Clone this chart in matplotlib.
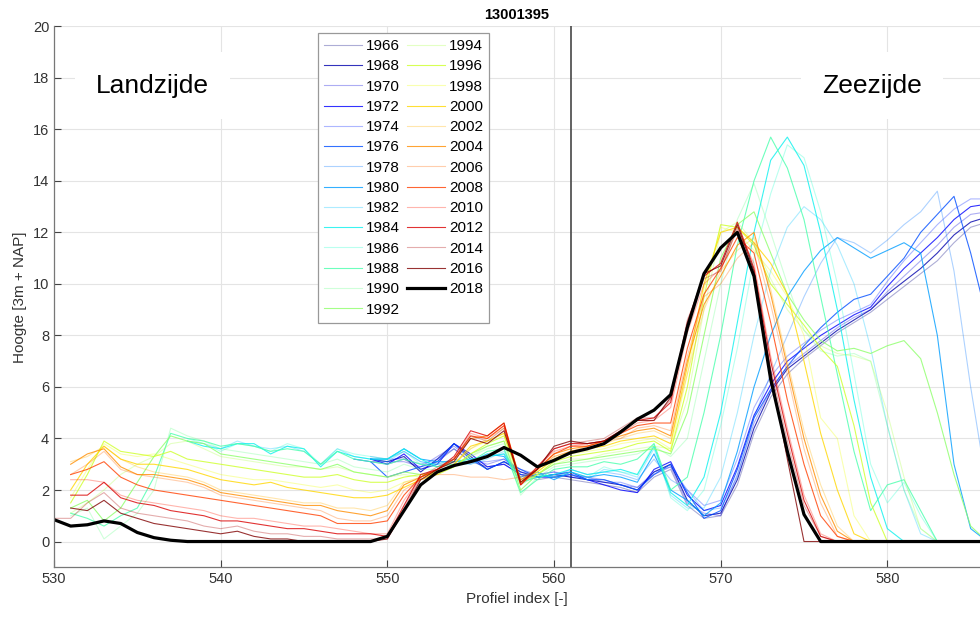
import numpy as np
import matplotlib
matplotlib.use("Agg")
import matplotlib.pyplot as plt

plt.rcParams['font.family'] = ['Liberation Sans', 'DejaVu Sans']

nan = np.nan

# profiel index 530 .. 586
profile_index = np.arange(530, 587)

years = [1966, 1968, 1970, 1972, 1974, 1976, 1978, 1980, 1982, 1984, 1986, 1988, 1990,
         1992, 1994, 1996, 1998, 2000, 2002, 2004, 2006, 2008, 2010, 2012, 2014, 2016, 2018]

# hoogte per jaar [3m + NAP]
h1966 = [nan, nan, nan, nan, nan, nan, nan, nan,
         nan, nan, nan, nan, nan, nan, nan, nan, nan, nan, nan, 3.1, 3.0,
         3.2, 2.8, 3.1, 3.6, 3.1, 2.9, 3.0, 2.6, 2.4, 2.5, 2.4, 2.3, 2.2, 2.1, 1.9, 2.5, 2.8,
         1.4, 0.9, 1.0, 2.2, 4.2, 5.6, 6.5, 7.1, 7.6, 8.1, 8.5, 8.9, 9.4, 9.9, 10.4, 10.9, 11.6, 12.2, 12.4]
h1968 = [nan, nan, nan, nan, nan, nan, nan, nan,
         nan, nan, nan, nan, nan, nan, nan, nan, nan, nan, nan, 3.2, 3.1,
         3.3, 2.7, 3.2, 3.8, 3.3, 2.8, 3.1, 2.7, 2.5, 2.6, 2.5, 2.4, 2.3, 2.2, 2.0, 2.7, 3.0,
         1.6, 1.0, 1.1, 2.4, 4.4, 5.8, 6.7, 7.2, 7.7, 8.2, 8.6, 9.0, 9.6, 10.1, 10.6, 11.2, 11.9, 12.4, 12.6]
h1970 = [nan, nan, nan, nan, nan, nan, nan, nan,
         nan, nan, nan, nan, nan, nan, nan, nan, nan, nan, nan, 3.1, 3.1,
         3.1, 2.9, 3.3, 3.7, 3.2, 3.0, 3.2, 2.8, 2.6, 2.7, 2.6, 2.5, 2.4, 2.2, 2.1, 2.6, 2.9,
         1.5, 1.1, 1.0, 2.6, 4.6, 5.9, 6.8, 7.3, 7.8, 8.3, 8.7, 9.0, 9.7, 10.3, 10.9, 11.5, 12.2, 12.7, 12.8]
h1972 = [nan, nan, nan, nan, nan, nan, nan, nan,
         nan, nan, nan, nan, nan, nan, nan, nan, nan, nan, nan, 3.2, 3.0,
         3.4, 2.8, 3.0, 3.8, 3.4, 2.9, 3.0, 2.6, 2.5, 2.5, 2.6, 2.4, 2.2, 2.0, 1.9, 2.8, 3.1,
         1.8, 1.2, 1.4, 2.9, 4.9, 6.1, 7.0, 7.5, 8.0, 8.4, 8.8, 9.1, 9.9, 10.6, 11.2, 11.8, 12.5, 13.0, 13.1]
h1974 = [nan, nan, nan, nan, nan, nan, nan, nan,
         nan, nan, nan, nan, nan, nan, nan, nan, nan, nan, nan, 3.2, 3.2,
         3.2, 3.0, 3.2, 3.6, 3.1, 3.1, 3.2, 2.7, 2.6, 2.7, 2.5, 2.5, 2.3, 2.3, 2.1, 2.7, 2.9,
         2.0, 1.4, 1.6, 3.2, 5.2, 6.4, 7.2, 7.7, 8.2, 8.6, 8.9, 9.2, 10.1, 10.9, 11.6, 12.3, 12.9, 13.3, 13.3]
h1976 = [nan, nan, nan, nan, nan, nan, nan, nan,
         nan, nan, nan, nan, nan, nan, nan, nan, nan, nan, 3.2, 3.1, 2.5,
         2.7, 2.9, 3.1, 3.8, 3.2, 2.8, 3.1, 2.8, 2.5, 2.6, 2.7, 2.4, 2.4, 2.2, 2.0, 2.6, 3.0,
         1.9, 0.9, 1.2, 2.8, 4.8, 5.9, 6.8, 7.6, 8.3, 8.9, 9.4, 9.6, 10.3, 11.0, 12.0, 12.7, 13.4, 11.2, 8.6]
h1978 = [nan, nan, nan, nan, nan, nan, nan, nan,
         nan, nan, nan, nan, nan, nan, nan, nan, nan, nan, nan, 3.3, 3.2,
         3.5, 3.1, 3.0, 3.2, 3.0, 3.3, 3.4, 2.6, 2.6, 2.5, 2.8, 2.6, 2.7, 2.6, 2.4, 3.2, 2.4,
         2.0, 1.2, 1.3, 2.5, 4.8, 6.5, 8.0, 9.5, 10.8, 11.8, 11.6, 11.2, 11.7, 12.3, 12.8, 13.6, 10.5, 6.0, 2.0]
h1980 = [nan, nan, nan, nan, nan, nan, nan, nan,
         nan, nan, nan, nan, nan, nan, nan, nan, nan, nan, nan, 3.2, 3.2,
         3.6, 3.2, 3.1, 3.1, 3.1, 3.4, 3.3, 2.5, 2.7, 2.4, 2.7, 2.5, 2.6, 2.5, 2.3, 3.4, 2.0,
         1.6, 1.0, 1.5, 3.5, 6.0, 8.0, 9.5, 10.5, 11.3, 11.8, 11.4, 11.0, 11.3, 11.6, 11.2, 8.0, 3.0, 0.5, 0.0]
h1982 = [nan, nan, nan, nan, nan, nan, nan, nan,
         3.9, 3.8, 3.6, 3.9, 3.7, 3.6, 3.7, 3.5, 3.0, 3.6, 3.3, 3.2, 3.1,
         3.5, 3.1, 3.0, 3.0, 3.0, 3.2, 3.5, 2.4, 2.6, 2.5, 2.6, 2.4, 2.8, 2.7, 2.5, 3.6, 1.8,
         1.3, 1.3, 2.5, 5.0, 8.0, 10.5, 12.2, 13.0, 12.5, 11.5, 10.0, 7.5, 4.5, 2.0, 0.3, 0.0, 0.0, 0.0, 0.0]
h1984 = [nan, nan, nan, nan, nan, nan, nan, nan,
         3.9, 3.7, 3.6, 3.8, 3.8, 3.4, 3.7, 3.6, 2.9, 3.5, 3.3, 3.2, 3.2,
         3.6, 3.2, 2.9, 3.1, 3.2, 3.3, 3.4, 2.3, 2.5, 2.6, 2.8, 2.6, 2.7, 2.8, 2.6, 3.7, 1.9,
         1.4, 2.5, 5.0, 8.5, 12.0, 14.8, 15.7, 14.6, 12.0, 9.0, 5.5, 2.5, 0.5, 0.0, 0.0, 0.0, 0.0, 0.0, 0.0]
h1986 = [nan, nan, nan, nan, nan, nan, nan, nan,
         4.0, 3.8, 3.5, 3.8, 3.7, 3.5, 3.8, 3.6, 3.0, 3.6, 3.4, 3.3, 3.2,
         3.5, 3.0, 3.0, 3.2, 3.1, 3.4, 3.6, 2.2, 2.6, 2.5, 2.7, 2.5, 2.9, 2.7, 2.6, 3.8, 1.7,
         1.2, 2.0, 4.5, 7.5, 11.0, 13.5, 15.4, 14.9, 12.8, 10.0, 6.5, 3.0, 1.5, 2.3, 1.0, 0.0, 0.0, 0.0, 0.0]
h1988 = [nan, 1.1, 0.9, 0.6, 1.0, 1.3, 2.5, 4.2,
         4.0, 3.9, 3.7, 3.8, 3.7, 3.5, 3.6, 3.5, 3.0, 3.5, 3.2, 3.1, 3.0,
         3.2, 3.0, 2.9, 3.0, 3.1, 3.5, 3.6, 1.9, 2.4, 2.8, 2.9, 2.9, 3.1, 3.0, 3.2, 3.8, 2.0,
         2.5, 5.0, 8.0, 11.5, 14.0, 15.7, 14.5, 12.5, 9.5, 6.5, 3.5, 1.2, 2.2, 2.4, 1.2, 0.0, 0.0, 0.0, 0.0]
h1990 = [nan, 1.0, 1.3, 0.1, 0.6, 1.1, 2.0, 4.4,
         4.1, 3.9, 3.6, 3.5, 3.4, 3.3, 3.2, 3.1, 3.0, 3.2, 2.9, 2.8, 2.7,
         3.0, 2.8, 2.8, 2.9, 3.3, 3.6, 3.8, 1.8, 2.5, 2.9, 3.0, 3.1, 3.2, 3.3, 3.4, 3.7, 3.3,
         4.0, 7.0, 10.0, 12.5, 13.9, 12.0, 10.0, 8.2, 7.4, 7.2, 7.3, 7.0, 4.5, 2.0, 0.5, 0.0, 0.0, 0.0, 0.0]
h1992 = [nan, 1.3, 1.6, 0.8, 1.3, 2.3, 3.3, 4.1,
         3.9, 3.8, 3.4, 3.3, 3.2, 3.1, 3.0, 2.9, 2.8, 3.0, 2.7, 2.6, 2.5,
         2.7, 2.6, 2.7, 2.9, 3.4, 3.7, 3.9, 2.0, 2.6, 3.0, 3.1, 3.2, 3.3, 3.4, 3.5, 3.6, 3.4,
         5.0, 8.0, 11.0, 12.3, 12.8, 11.2, 9.6, 8.6, 7.8, 7.4, 7.5, 7.3, 7.6, 7.8, 7.1, 5.0, 2.6, 0.6, 0.0]
h1994 = [nan, 1.1, 1.5, 2.0, 2.6, 3.0, 3.3, 3.8,
         3.9, 3.6, 3.3, 3.2, 3.1, 3.0, 2.9, 2.9, 2.8, 2.9, 2.7, 2.6, 2.5,
         2.6, 2.5, 2.7, 2.9, 3.3, 3.7, 3.9, 2.2, 2.6, 3.0, 3.2, 3.2, 3.4, 3.5, 3.6, 3.7, 3.6,
         5.5, 9.0, 12.0, 12.4, 11.6, 10.2, 9.0, 8.2, 7.6, 7.3, 7.2, 7.0, 5.0, 2.5, 0.5, 0.0, 0.0, 0.0, 0.0]
h1996 = [nan, 1.5, 2.6, 3.9, 3.5, 3.4, 3.3, 3.5,
         3.2, 3.1, 3.0, 2.9, 2.8, 2.7, 2.6, 2.5, 2.5, 2.6, 2.4, 2.3, 2.3,
         2.5, 2.6, 2.6, 2.9, 3.4, 3.8, 4.1, 2.3, 2.6, 3.1, 3.3, 3.4, 3.5, 3.6, 3.8, 3.9, 3.5,
         6.0, 9.5, 12.3, 12.2, 11.5, 10.0, 9.2, 8.4, 7.5, 6.8, 4.5, 1.5, 0.0, 0.0, 0.0, 0.0, 0.0, 0.0, 0.0]
h1998 = [nan, 1.7, 2.8, 3.8, 3.4, 3.3, 3.4, 3.2,
         3.0, 2.8, 2.6, 2.5, 2.4, 2.4, 2.3, 2.2, 2.1, 2.2, 2.0, 1.9, 2.0,
         2.3, 2.4, 2.6, 3.0, 3.6, 3.9, 4.2, 2.3, 2.7, 3.2, 3.4, 3.5, 3.6, 3.8, 3.9, 4.0, 3.6,
         6.5, 9.8, 12.2, 12.0, 11.3, 10.5, 9.5, 8.0, 4.8, 4.0, 1.0, 0.0, 0.0, 0.0, 0.0, 0.0, 0.0, 0.0, 0.0]
h2000 = [nan, 2.0, 3.0, 3.7, 3.2, 3.0, 3.0, 2.9,
         2.8, 2.6, 2.4, 2.3, 2.2, 2.3, 2.1, 2.0, 1.9, 1.8, 1.7, 1.7, 1.8,
         2.1, 2.4, 2.7, 3.0, 3.7, 3.9, 4.2, 2.4, 2.7, 3.2, 3.5, 3.6, 3.7, 3.9, 4.0, 4.1, 3.8,
         6.8, 10.0, 12.0, 12.2, 11.6, 10.8, 9.6, 7.0, 4.2, 2.0, 0.3, 0.0, 0.0, 0.0, 0.0, 0.0, 0.0, 0.0, 0.0]
h2002 = [nan, 3.1, 3.3, 3.7, 3.2, 2.9, 2.7, 2.6,
         2.5, 2.3, 2.0, 1.9, 1.8, 1.7, 1.6, 1.5, 1.5, 1.3, 1.3, 1.2, 1.4,
         2.3, 2.5, 2.7, 3.0, 3.6, 4.0, 4.4, 2.4, 2.8, 3.3, 3.5, 3.6, 3.8, 4.0, 4.2, 4.3, 4.0,
         6.5, 9.0, 10.5, 11.3, 11.8, 9.8, 7.0, 4.3, 2.2, 0.6, 0.0, 0.0, 0.0, 0.0, 0.0, 0.0, 0.0, 0.0, 0.0]
h2004 = [nan, 3.0, 3.4, 3.6, 2.9, 2.6, 2.6, 2.5,
         2.4, 2.2, 1.9, 1.8, 1.7, 1.6, 1.5, 1.4, 1.4, 1.2, 1.1, 1.0, 1.2,
         2.2, 2.5, 2.8, 3.2, 4.0, 4.1, 4.6, 2.3, 2.8, 3.4, 3.6, 3.7, 3.9, 4.1, 4.3, 4.4, 4.1,
         7.0, 9.2, 10.3, 11.5, 12.0, 9.6, 6.8, 4.0, 1.8, 0.4, 0.0, 0.0, 0.0, 0.0, 0.0, 0.0, 0.0, 0.0, 0.0]
h2006 = [nan, 2.6, 3.0, 3.5, 2.8, 2.6, 2.5, 2.4,
         2.3, 2.1, 1.8, 1.7, 1.6, 1.5, 1.4, 1.3, 1.2, 0.9, 0.8, 0.8, 1.0,
         2.0, 2.4, 2.6, 2.6, 2.5, 2.5, 2.4, 2.5, 2.8, 3.3, 3.5, 3.7, 3.9, 4.0, 4.4, 4.5, 4.3,
         7.2, 9.5, 10.0, 11.0, 11.6, 9.2, 6.5, 3.6, 1.5, 0.2, 0.0, 0.0, 0.0, 0.0, 0.0, 0.0, 0.0, 0.0, 0.0]
h2008 = [nan, 2.6, 2.8, 3.1, 2.5, 2.2, 2.0, 1.9,
         1.8, 1.7, 1.6, 1.5, 1.4, 1.3, 1.2, 1.1, 1.0, 0.7, 0.7, 0.7, 0.8,
         1.8, 2.5, 2.8, 3.2, 4.1, 4.0, 4.5, 2.2, 2.8, 3.4, 3.7, 3.7, 3.9, 4.2, 4.5, 4.6, 4.6,
         7.5, 9.6, 10.6, 11.8, 11.2, 8.5, 5.5, 3.0, 1.0, 0.2, 0.0, 0.0, 0.0, 0.0, 0.0, 0.0, 0.0, 0.0, 0.0]
h2010 = [nan, 2.4, 2.4, 2.3, 1.8, 1.6, 1.5, 1.4,
         1.3, 1.2, 1.0, 0.9, 0.9, 0.8, 0.7, 0.6, 0.6, 0.5, 0.4, 0.3, 0.3,
         1.6, 2.5, 2.8, 3.2, 4.2, 4.0, 4.5, 2.3, 2.9, 3.5, 3.7, 3.8, 3.9, 4.2, 4.6, 4.7, 5.2,
         8.1, 10.0, 10.6, 12.1, 10.8, 7.2, 4.4, 1.8, 0.3, 0.0, 0.0, 0.0, 0.0, 0.0, 0.0, 0.0, 0.0, 0.0, 0.0]
h2012 = [nan, 1.8, 1.8, 2.3, 1.7, 1.5, 1.4, 1.2,
         1.1, 1.0, 0.8, 0.8, 0.7, 0.6, 0.5, 0.5, 0.4, 0.3, 0.3, 0.3, 0.2,
         1.4, 2.6, 2.8, 3.3, 4.3, 4.1, 4.6, 2.2, 2.9, 3.6, 3.8, 3.8, 3.9, 4.3, 4.7, 4.8, 5.4,
         8.4, 10.3, 10.8, 12.4, 10.6, 7.0, 4.2, 1.6, 0.2, 0.0, 0.0, 0.0, 0.0, 0.0, 0.0, 0.0, 0.0, 0.0, 0.0]
h2014 = [0.9, 0.9, 1.5, 1.9, 1.3, 1.1, 1.0, 0.9,
         0.8, 0.6, 0.5, 0.6, 0.4, 0.3, 0.3, 0.2, 0.2, 0.1, 0.1, 0.1, 0.1,
         1.3, 2.5, 2.9, 3.2, 4.1, 3.9, 4.4, 2.4, 2.8, 3.6, 3.8, 3.9, 4.0, 4.4, 4.8, 4.8, 5.5,
         8.6, 10.2, 10.5, 12.2, 10.4, 6.7, 3.9, 1.4, 0.2, 0.0, 0.0, 0.0, 0.0, 0.0, 0.0, 0.0, 0.0, 0.0, 0.0]
h2016 = [nan, 1.3, 1.2, 1.6, 1.1, 0.9, 0.7, 0.6,
         0.5, 0.4, 0.3, 0.4, 0.2, 0.1, 0.1, 0.0, 0.0, 0.0, 0.0, 0.0, 0.1,
         1.2, 2.4, 2.8, 3.1, 4.0, 3.8, 4.3, 2.3, 2.8, 3.7, 3.9, 3.8, 3.9, 4.3, 4.7, 4.7, 5.6,
         8.5, 10.4, 10.7, 12.3, 10.5, 6.6, 3.2, 0.0, 0.0, 0.0, 0.0, 0.0, 0.0, 0.0, 0.0, 0.0, 0.0, 0.0, 0.0]
h2018 = [0.85, 0.6, 0.65, 0.8, 0.7, 0.35, 0.15, 0.05,
         0.0, 0.0, 0.0, 0.0, 0.0, 0.0, 0.0, 0.0, 0.0, 0.0, 0.0, 0.0, 0.2,
         1.2, 2.2, 2.7, 2.95, 3.1, 3.3, 3.65, 3.35, 2.9, 3.15, 3.45, 3.6, 3.8, 4.25, 4.75, 5.1, 5.7,
         8.3, 10.4, 11.4, 12.0, 10.3, 6.3, 3.5, 1.05, 0.0, 0.0, 0.0, 0.0, 0.0, 0.0, 0.0, 0.0, 0.0, 0.0, 0.0]

profiles = [h1966, h1968, h1970, h1972, h1974, h1976, h1978, h1980, h1982, h1984,
            h1986, h1988, h1990, h1992, h1994, h1996, h1998, h2000, h2002, h2004,
            h2006, h2008, h2010, h2012, h2014, h2016, h2018]

transect = "13001395"
dune_toe = 561

fig = plt.figure(figsize=(9.8, 6.21), dpi=100)
ax = fig.add_axes([0.0551, 0.0865, 0.9449, 0.8711])

# jet kleuren voor alle jaren behalve het laatste, om en om doorzichtig
n_col = len(years) - 1
colors = plt.cm.jet(np.linspace(0, 1, n_col))
for i in range(n_col):
    ax.plot(profile_index, profiles[i], color=colors[i], lw=0.8,
            alpha=0.32 if i % 2 == 0 else 0.8, label=str(years[i]))
ax.plot(profile_index, profiles[-1], color='black', lw=2.3, label=str(years[-1]))

ax.axvline(dune_toe, color='#555555', lw=1.3, zorder=1)

ax.set_xlim(530, 585.56)
ax.set_ylim(-1, 20)
ax.set_xticks(np.arange(530, 581, 10))
ax.set_yticks(np.arange(0, 21, 2))
ax.grid(True, color='#e4e4e4', lw=0.8)
ax.set_axisbelow(True)
ax.tick_params(direction='in', length=5, width=0.8, color='#444444',
               labelsize=10.5, labelcolor='#333333')
for side in ['top', 'right']:
    ax.spines[side].set_visible(False)
for side in ['left', 'bottom']:
    ax.spines[side].set_color('#777777')
    ax.spines[side].set_linewidth(0.9)

ax.set_xlabel('Profiel index [-]', fontsize=11, color='#333333', labelpad=4)
ax.set_ylabel('Hoogte [3m + NAP]', fontsize=11, color='#333333', labelpad=4)
ax.set_title(transect, fontsize=10.5, fontweight='bold', pad=5)

box = dict(facecolor='white', edgecolor='none', boxstyle='square,pad=0.8')
ax.text(535.9, 17.7, 'Landzijde', fontsize=19, ha='center', va='center', bbox=box, zorder=3)
ax.text(579.1, 17.7, 'Zeezijde', fontsize=19, ha='center', va='center', bbox=box, zorder=3)

leg = ax.legend(ncol=2, loc='upper left', bbox_to_anchor=(318 / 980, 1 - 33 / 621),
                bbox_transform=fig.transFigure, borderaxespad=0, fontsize=11,
                handlelength=2.5, handletextpad=0.25, columnspacing=0.45,
                labelspacing=0.41, borderpad=0.4, fancybox=False, framealpha=1)
leg.get_frame().set_edgecolor('#999999')
leg.get_frame().set_linewidth(0.9)

fig.savefig('out.png', dpi=100)
